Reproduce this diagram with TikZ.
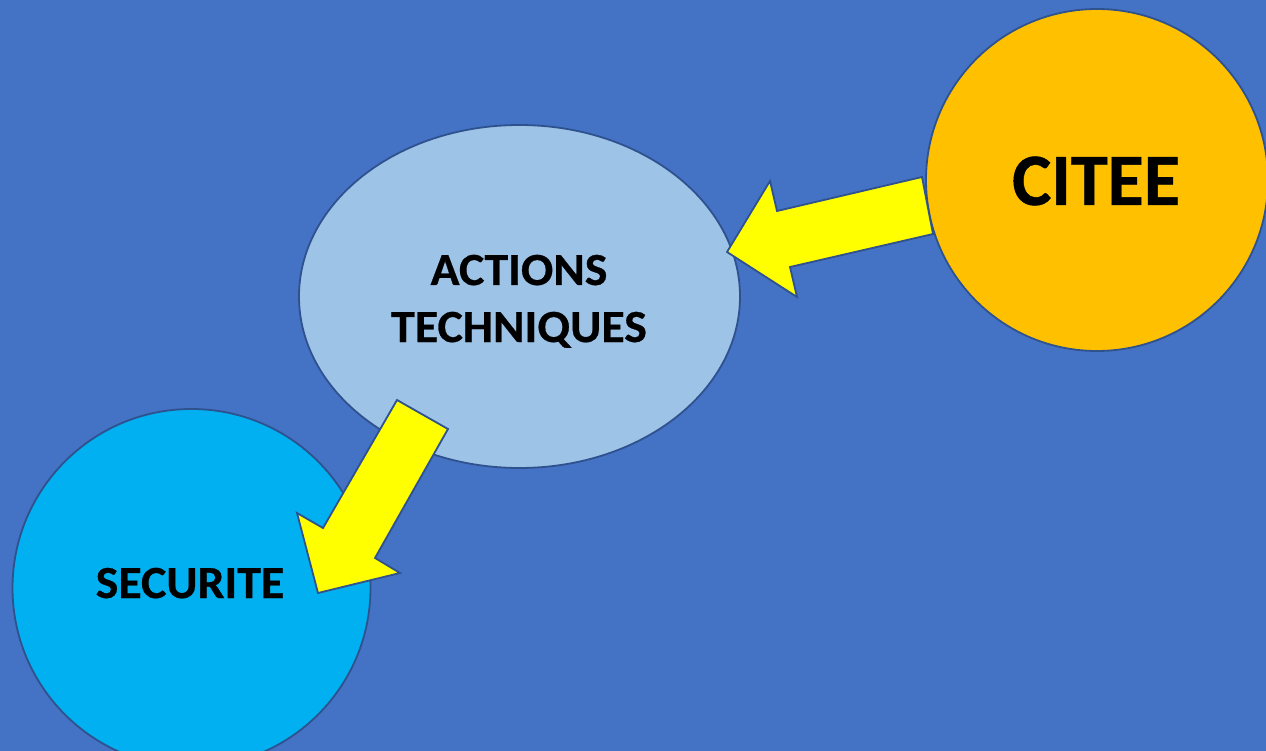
\documentclass[tikz,border=0pt]{standalone}
\usepackage{fontspec}
\setmainfont{Carlito}
\newfontfamily\lblfont{Carlito}[FakeStretch=1.04, FakeBold=0.6]
\newfontfamily\bigfont{Carlito}[FakeBold=0.6]
\usetikzlibrary{shapes.geometric}
\definecolor{bgblue}{HTML}{4472C4}
\definecolor{edgeblue}{HTML}{2F528F}
\definecolor{lightblue}{HTML}{9DC3E6}
\definecolor{cyanblue}{HTML}{00B0F0}
\definecolor{gold}{HTML}{FFC000}
\definecolor{yel}{HTML}{FFFF00}
\tikzset{
  shapeedge/.style={draw=edgeblue, line width=1.8pt},
  bubble/.style={shapeedge, inner sep=0pt, outer sep=0pt},
  blockarrow/.style={shapeedge, fill=yel, line join=miter},
  lbl/.style={inner sep=0pt, anchor=base, font=\lblfont\bfseries\fontsize{46}{56}\selectfont, text=black},
}
\begin{document}
\begin{tikzpicture}[x=1pt,y=-1pt]
\fill[bgblue] (0,0) rectangle (1266,751);
\useasboundingbox (0,0) rectangle (1266,751);
% shapes
\node[bubble, ellipse, fill=lightblue, minimum width=441pt, minimum height=343pt] (act) at (519.5,296.5) {};
\node[bubble, circle, fill=cyanblue, minimum size=358pt] (sec) at (191.5,588) {};
\node[bubble, circle, fill=gold, minimum size=342pt] (cit) at (1097,180) {};
% labels
\node[lbl] (actA) at (519,285) {ACTIONS};
\node[lbl] (actB) at (519,342) {TECHNIQUES};
\node[lbl] (secT) at (190,598) {SECURITE};
\node[lbl, font=\bigfont\bfseries\fontsize{74}{88}\selectfont] (citT) at (1096,205) {CITEE};
% arrow CITEE -> ACTIONS
\coordinate (a1t1) at (922,177);
\coordinate (a1t2) at (933,234);
\coordinate (a1s2) at (790,267);
\coordinate (a1b2) at (797,297);
\coordinate (a1tip) at (727,252);
\coordinate (a1b1) at (770,181);
\coordinate (a1s1) at (777,211);
\draw[blockarrow] (a1t1) -- (a1t2) -- (a1s2) -- (a1b2) -- (a1tip) -- (a1b1) -- (a1s1) -- cycle;
% arrow ACTIONS -> SECURITE
\coordinate (a2t1) at (397,400);
\coordinate (a2t2) at (448,429);
\coordinate (a2s2) at (375,558);
\coordinate (a2b2) at (400,573);
\coordinate (a2tip) at (318,593);
\coordinate (a2b1) at (297,513);
\coordinate (a2s1) at (323,528);
\draw[blockarrow] (a2t1) -- (a2t2) -- (a2s2) -- (a2b2) -- (a2tip) -- (a2b1) -- (a2s1) -- cycle;
\end{tikzpicture}
\end{document}
